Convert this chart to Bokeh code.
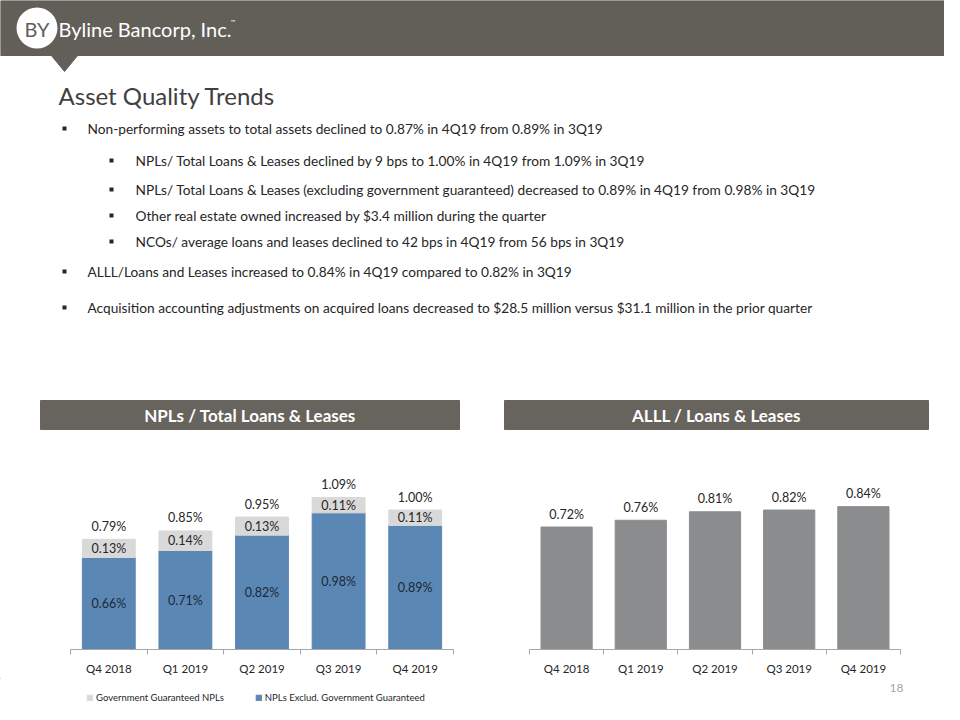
from bokeh.plotting import figure
from bokeh.models import Range1d, ColumnDataSource, LabelSet, Legend, LegendItem, FixedTicker
from bokeh.layouts import column, row
from bokeh.embed import file_html
from bokeh.resources import INLINE
from bokeh.core.properties import value

# ---------------- data ----------------
quarters = ["Q4 2018", "Q1 2019", "Q2 2019", "Q3 2019", "Q4 2019"]
npl_excl_gov = [0.66, 0.71, 0.82, 0.98, 0.89]
npl_gov = [0.13, 0.14, 0.13, 0.11, 0.11]
npl_total = [0.79, 0.85, 0.95, 1.09, 1.00]
alll = [0.72, 0.76, 0.81, 0.82, 0.84]

bullet_levels = [1, 2, 2, 2, 2, 1, 1]
bullet_texts = [
    "Non-performing assets to total assets declined to 0.87% in 4Q19  from 0.89% in 3Q19",
    "NPLs/ Total Loans & Leases declined by 9 bps to 1.00% in 4Q19  from 1.09% in 3Q19",
    "NPLs/ Total Loans & Leases (excluding government guaranteed) decreased to 0.89% in 4Q19  from 0.98% in 3Q19",
    "Other real estate owned increased by $3.4 million during the quarter",
    "NCOs/ average loans and leases declined to 42 bps in 4Q19  from 56 bps in 3Q19",
    "ALLL/Loans and Leases increased to 0.84% in 4Q19  compared to 0.82% in 3Q19",
    "Acquisition accounting adjustments on acquired loans decreased to $28.5 million versus $31.1 million in the prior quarter",
]
company = "Byline Bancorp, Inc."
title_text = "Asset Quality Trends"
chart1_title = "NPLs / Total Loans & Leases"
chart2_title = "ALLL / Loans & Leases"
legend_labels = ["Government Guaranteed NPLs", "NPLs Exclud. Government Guaranteed"]
page_number = "18"

# ---------------- styles ----------------
FONT = "Lato"
BANNER = "#625e58"
HEADER = "#67635d"
BLUE = "#5b87b4"
LIGHT = "#d9d9d9"
GRAY_BAR = "#8b8c8e"
TXT = "#262626"
AXIS = "#a6a6a6"

# ---------------- top slide area (pixel coordinates) ----------------
top = figure(width=944, height=430, x_range=Range1d(0, 944), y_range=Range1d(430, 0),
             x_axis_location=None, y_axis_location=None, toolbar_location=None,
             output_backend="svg", min_border=0, outline_line_color=None)
top.grid.visible = False

top.quad(left=0, right=960, top=0, bottom=55, color=BANNER)
top.patch([50, 78, 64], [54, 54, 71], color=BANNER)
top.scatter([36.5], [27.5], size=41, color="white", line_color=None)
top.text([36.5], [28.5], text=["BY"], text_align="center", text_baseline="middle",
         text_font=value(FONT), text_font_size="20px", text_color=BANNER)
top.text([58], [28], text=[company], text_align="left", text_baseline="middle",
         text_font=value(FONT), text_font_size="20px", text_color="white")
top.text([230], [21], text=["\u2122"], text_align="left", text_baseline="middle",
         text_font=value(FONT), text_font_size="6px", text_color="white")

top.text([58], [95], text=[title_text], text_align="left", text_baseline="middle",
         text_font=value(FONT), text_font_size="24px", text_color="#404040")

bullet_y = [128, 160, 189, 215, 241, 271, 307]
bx = {1: 64, 2: 111}
tx = {1: 87, 2: 135}
top.scatter([bx[l] for l in bullet_levels], bullet_y, marker="square", size=4,
            color=TXT, line_color=None)
top.text([tx[l] for l in bullet_levels], bullet_y, text=bullet_texts, text_align="left",
         text_baseline="middle", text_font=value(FONT), text_font_size="13.7px", text_color=TXT)

top.quad(left=[40, 504], right=[459, 928], top=[400, 400], bottom=[429, 429], color=HEADER)
top.text([249.5, 716], [414.5, 414.5], text=[chart1_title, chart2_title], text_align="center",
         text_baseline="middle", text_font=value(FONT), text_font_size="17px",
         text_font_style="bold", text_color="white")

# ---------------- shared chart helpers ----------------
xs = [i + 0.5 for i in range(len(quarters))]
fmt = lambda v: f"{v:.2f}%"


def style_axis(p):
    p.xaxis.ticker = FixedTicker(ticks=xs, minor_ticks=list(range(len(quarters) + 1)))
    p.xaxis.major_label_overrides = {x: q for x, q in zip(xs, quarters)}
    p.xaxis.major_tick_out = 0
    p.xaxis.major_tick_in = 0
    p.xaxis.minor_tick_out = 5
    p.xaxis.minor_tick_in = 0
    p.xaxis.axis_line_color = AXIS
    p.xaxis.minor_tick_line_color = AXIS
    p.xaxis.major_label_text_font = FONT
    p.xaxis.major_label_text_font_size = "11.5px"
    p.xaxis.major_label_text_color = TXT
    p.xaxis.major_label_standoff = 7
    p.grid.visible = False


lab_kw = dict(text_align="center", text_baseline="middle", text_font=value(FONT),
              text_font_size="12.5px")

# ---------------- chart 1: stacked NPLs ----------------
src1 = ColumnDataSource(dict(
    x=xs, excl=npl_excl_gov, gov=npl_gov, total=npl_total,
    excl_mid=[e / 2 for e in npl_excl_gov],
    gov_mid=[e + g / 2 for e, g in zip(npl_excl_gov, npl_gov)],
    excl_lbl=[fmt(v) for v in npl_excl_gov],
    gov_lbl=[fmt(v) for v in npl_gov],
    total_lbl=[fmt(v) for v in npl_total],
))

c1 = figure(width=472, height=248, x_range=Range1d(0, 5), y_range=Range1d(0, 1.499),
            toolbar_location=None, output_backend="svg", y_axis_location=None,
            min_border_left=70, min_border_right=19, min_border_top=10, min_border_bottom=29,
            outline_line_color=None)
c1.vbar_stack(["excl", "gov"], x="x", width=0.69, color=[BLUE, LIGHT], source=src1)
style_axis(c1)
c1.add_layout(LabelSet(x="x", y="total", text="total_lbl", y_offset=13, source=src1,
                       text_color=TXT, **lab_kw))
c1.add_layout(LabelSet(x="x", y="gov_mid", text="gov_lbl", source=src1,
                       text_color=TXT, **lab_kw))
c1.add_layout(LabelSet(x="x", y="excl_mid", text="excl_lbl", source=src1,
                       text_color="#1c2838", **lab_kw))

# ---------------- chart 2: ALLL ----------------
src2 = ColumnDataSource(dict(x=xs, alll=alll, lbl=[fmt(v) for v in alll]))
c2 = figure(width=472, height=248, x_range=Range1d(0, 5), y_range=Range1d(0, 1.229),
            toolbar_location=None, output_backend="svg", y_axis_location=None,
            min_border_left=57, min_border_right=44, min_border_top=10, min_border_bottom=29,
            outline_line_color=None)
c2.vbar(x="x", top="alll", width=0.69, color=GRAY_BAR, source=src2)
style_axis(c2)
c2.add_layout(LabelSet(x="x", y="alll", text="lbl", y_offset=13, source=src2,
                       text_color=TXT, **lab_kw))

# ---------------- bottom strip: legend + page number ----------------
strip = figure(width=944, height=26, x_range=Range1d(0, 944), y_range=Range1d(704, 678),
               x_axis_location=None, y_axis_location=None, toolbar_location=None,
               output_backend="svg", min_border=0, outline_line_color=None)
strip.grid.visible = False
# legend proxies: one off-canvas bar each, so the legend swatches get drawn
proxy = ColumnDataSource(dict(x=[-1000], top=[-1000]))
g_gov = strip.vbar(x="x", top="top", width=1, color=LIGHT, source=proxy)
g_excl = strip.vbar(x="x", top="top", width=1, color=BLUE, source=proxy)
legend = Legend(items=[LegendItem(label=legend_labels[0], renderers=[g_gov], index=0),
                       LegendItem(label=legend_labels[1], renderers=[g_excl], index=0)],
                orientation="horizontal", location=(86, 1), glyph_width=7, glyph_height=7,
                label_standoff=3, spacing=31, label_text_font=FONT, label_text_font_size="9.5px",
                label_text_color=TXT, border_line_color=None, background_fill_alpha=0,
                padding=2, margin=0, label_height=12)
strip.add_layout(legend)
strip.text([903], [687], text=[page_number], text_align="right", text_baseline="middle",
           text_font=value(FONT), text_font_size="12px", text_color="#a6a6a6")

layout = column(top, row(c1, c2), strip)
open("out.html", "w").write(file_html(layout, INLINE))
